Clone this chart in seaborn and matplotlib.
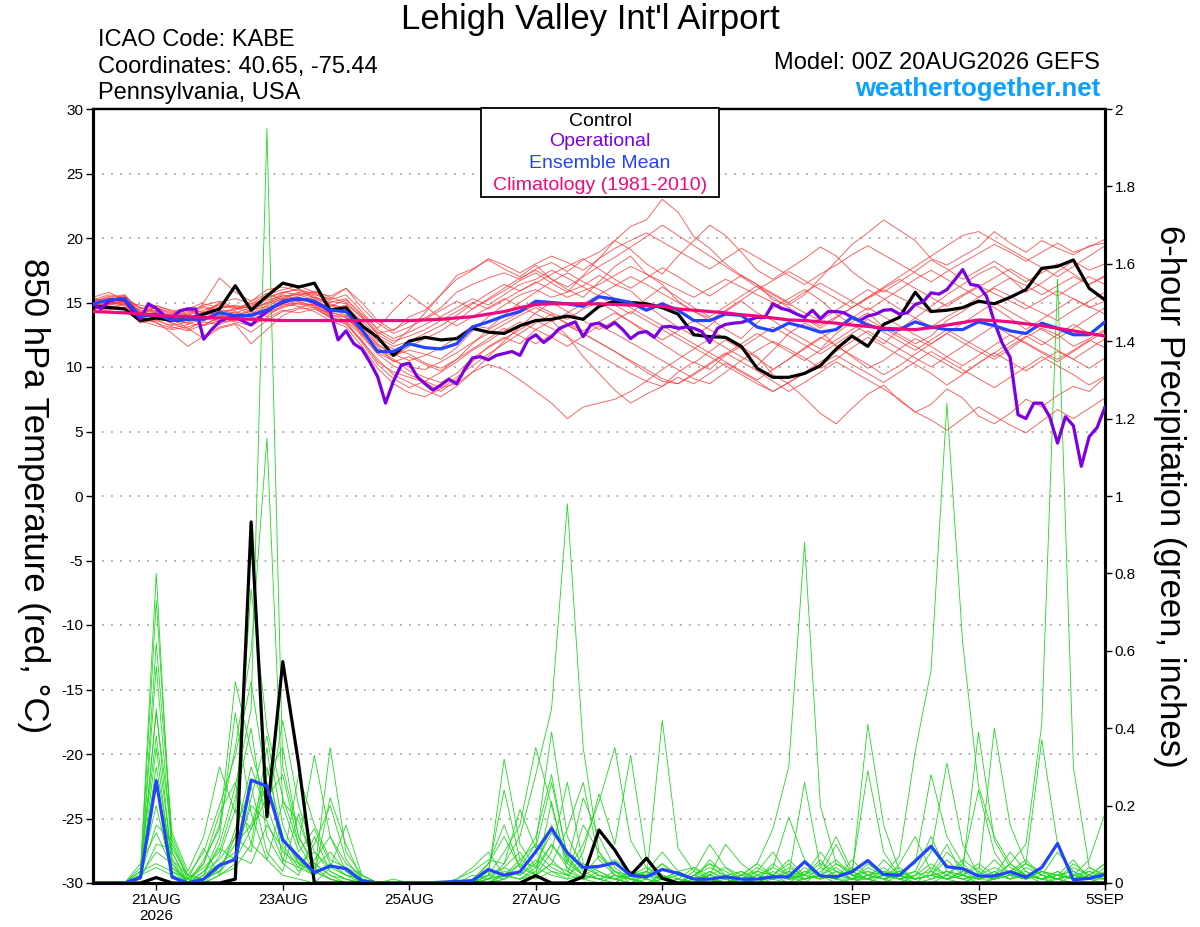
import numpy as np
import pandas as pd
import matplotlib
matplotlib.use("Agg")
import matplotlib.pyplot as plt
import matplotlib.dates as mdates
from matplotlib.patches import Rectangle
from matplotlib.ticker import FuncFormatter
import seaborn as sns

# ---------------- data ----------------
start_time = "2026-08-20 00:00"

control_temp = [14.7, 14.6, 14.5, 13.6, 13.8,
                13.6, 13.7, 14.1, 14.5, 16.3, 14.4, 15.5, 16.5, 16.2, 16.5, 14.4, 14.6,
                13.2, 12.3, 10.9, 12.0, 12.3, 12.1, 12.2, 13.0, 12.7, 12.6, 13.2, 13.6,
                13.7, 13.95, 13.7, 14.7, 15.1, 15.0, 14.9, 14.6, 14.1, 12.5, 12.35, 12.3,
                11.6, 9.9, 9.2, 9.2, 9.5, 10.1, 11.4, 12.4, 11.6, 13.3, 13.85, 15.8,
                14.3, 14.4, 14.6, 15.1, 14.9, 15.4, 16.0, 17.65, 17.8, 18.3, 16.1, 15.2]

mean_temp = [14.9, 15.2, 15.3, 13.9, 14.1,
             13.6, 13.7, 13.7, 14.2, 14.0, 14.0, 14.4, 15.1, 15.3, 15.1, 14.4, 14.3,
             12.9, 11.2, 11.2, 11.8, 11.5, 11.4, 11.8, 13.1, 13.5, 13.95, 14.3, 15.1,
             15.0, 14.9, 14.7, 15.45, 15.25, 15.0, 14.4, 14.9, 14.4, 13.6, 13.6, 14.1,
             14.0, 13.1, 12.8, 13.4, 13.1, 12.7, 12.9, 13.85, 13.25, 12.9, 12.9, 13.5,
             13.1, 12.9, 12.9, 13.5, 13.2, 12.8, 12.6, 13.4, 13.0, 12.5, 12.5, 13.5]

clim_temp = [14.3, 14.25, 14.2, 14.1, 14.0,
             13.95, 13.9, 13.85, 13.8, 13.75, 13.7, 13.65, 13.6, 13.6, 13.6, 13.6, 13.6,
             13.6, 13.6, 13.6, 13.6, 13.65, 13.7, 13.8, 13.9, 14.1, 14.3, 14.6, 14.85,
             14.9, 14.9, 14.9, 14.9, 14.85, 14.8, 14.75, 14.7, 14.5, 14.4, 14.3, 14.2,
             14.05, 13.95, 13.8, 13.65, 13.6, 13.5, 13.4, 13.25, 13.15, 13.0, 12.95, 12.9,
             13.05, 13.25, 13.45, 13.65, 13.6, 13.5, 13.35, 13.2, 13.0, 12.8, 12.6, 12.4]

# operational run, 3-hourly
oper_temp = [14.9, 14.5, 15.1, 15.25, 15.2, 14.4, 13.7, 14.9,
             14.55, 14.0, 13.85, 14.35, 14.5, 14.5, 12.15, 12.9,
             13.5, 13.8, 13.85, 13.55, 13.25, 13.8, 14.3, 14.7,
             15.0, 15.2, 15.25, 15.2, 15.0, 14.7, 14.3, 12.1,
             12.8, 11.8, 11.4, 10.4, 9.25, 7.2, 8.9, 10.15,
             10.3, 9.25, 8.7, 8.2, 8.6, 9.05, 8.7, 9.8,
             10.7, 10.8, 10.55, 10.9, 11.05, 11.2, 10.9, 12.1,
             12.5, 11.9, 12.35, 13.0, 13.25, 13.5, 12.35, 13.3,
             13.4, 13.05, 13.45, 12.9, 12.2, 12.65, 12.75, 12.3,
             13.1, 13.15, 13.0, 13.1, 13.0, 12.75, 11.9, 13.0,
             13.3, 13.4, 13.45, 13.65, 13.85, 13.85, 14.9, 14.55,
             14.4, 14.1, 13.85, 14.4, 13.75, 14.3, 14.3, 14.2,
             13.85, 13.6, 13.95, 14.1, 14.4, 14.45, 14.1, 14.2,
             14.85, 15.05, 15.75, 15.65, 16.0, 16.75, 17.55, 16.4,
             16.3, 15.5, 13.5, 11.85, 10.75, 6.3, 6.0, 7.2,
             7.2, 6.15, 4.1, 6.15, 5.45, 2.3, 4.6, 5.3,
             6.9]

control_precip = [0, 0, 0, 0, 0.014,
                  0, 0, 0, 0, 0.01, 0.933, 0.171, 0.572, 0.309, 0, 0, 0,
                  0, 0, 0, 0, 0, 0, 0, 0, 0, 0, 0, 0.019,
                  0, 0, 0.016, 0.137, 0.085, 0.02, 0.064, 0.012, 0, 0, 0, 0,
                  0, 0, 0, 0, 0, 0, 0, 0, 0, 0, 0, 0,
                  0, 0, 0, 0, 0, 0, 0, 0, 0, 0, 0, 0]

mean_precip = [0, 0, 0, 0.014, 0.264,
               0.015, 0, 0.01, 0.046, 0.061, 0.266, 0.25, 0.111, 0.068, 0.027, 0.044, 0.037,
               0.006, 0, 0, 0, 0, 0.002, 0.004, 0.006, 0.035, 0.02, 0.029, 0.081,
               0.141, 0.078, 0.04, 0.043, 0.052, 0.02, 0.016, 0.035, 0.025, 0.01, 0.01, 0.016,
               0.01, 0.01, 0.016, 0.016, 0.055, 0.018, 0.016, 0.029, 0.058, 0.022, 0.02, 0.057,
               0.095, 0.042, 0.037, 0.018, 0.018, 0.029, 0.015, 0.04, 0.102, 0.008, 0.012, 0.022]

# ensemble members, 850 hPa temperature (6-hourly)
ens_temp = [
    [15.2, 15.6, 15.4, 14.6, 14.3, 13.9, 14.2, 14.8, 15.1, 14.6, 14.9, 15.3, 15.8, 16.0, 15.7, 15.1, 14.9,
     13.8, 12.6, 12.9, 13.5, 13.8, 14.6, 15.8, 16.4, 16.9, 17.3, 16.8, 17.6, 18.1, 17.4, 18.3, 18.9,
     19.8, 20.9, 21.4, 23.0, 22.0, 20.1, 19.2, 18.0, 17.1, 16.4, 15.2, 14.8, 15.6, 16.9, 18.2, 19.5,
     20.4, 21.4, 20.6, 19.8, 18.4, 17.9, 18.6, 19.3, 20.5, 19.6, 18.9, 19.8, 19.2, 18.7, 19.4, 19.6],
    [14.8, 14.9, 15.1, 13.8, 13.6, 13.2, 13.5, 13.9, 13.6, 13.8, 14.2, 14.6, 15.0, 14.9, 14.6, 13.8, 13.3,
     12.1, 10.4, 9.6, 9.2, 8.8, 8.1, 9.0, 10.4, 11.6, 12.3, 11.8, 12.9, 13.6, 12.4, 10.8, 9.5,
     8.2, 7.2, 7.9, 8.5, 9.6, 10.4, 9.8, 10.9, 11.6, 10.8, 9.4, 8.7, 7.6, 6.4, 5.6, 6.8,
     7.9, 8.6, 7.4, 6.5, 7.1, 8.3, 7.6, 6.2, 5.6, 6.4, 7.5, 6.9, 7.8, 8.5, 8.1, 9.2],
    [14.6, 14.4, 14.9, 13.5, 13.9, 13.4, 12.9, 13.6, 14.0, 14.3, 13.9, 14.8, 15.6, 15.2, 15.4, 14.8, 14.6,
     13.2, 11.8, 10.9, 11.3, 11.0, 10.6, 11.5, 12.8, 13.9, 14.8, 15.6, 16.0, 15.4, 15.8, 16.3, 17.1,
     16.4, 15.9, 14.8, 13.9, 13.1, 12.4, 13.2, 14.3, 15.1, 14.2, 13.6, 12.8, 12.1, 11.4, 12.6, 13.5,
     14.2, 13.1, 12.5, 11.8, 12.4, 13.6, 14.3, 15.2, 14.6, 13.8, 12.9, 13.7, 14.5, 15.3, 14.6, 15.1],
    [15.4, 15.8, 15.2, 14.3, 14.6, 14.1, 14.5, 15.0, 16.9, 15.8, 15.1, 16.0, 16.2, 15.9, 15.6, 15.3, 16.1,
     15.0, 13.6, 12.8, 13.9, 14.4, 15.6, 17.1, 17.6, 18.3, 17.6, 17.0, 17.9, 16.8, 16.0, 15.4, 16.6,
     17.8, 18.6, 17.2, 16.4, 15.1, 14.3, 13.8, 12.9, 12.2, 13.4, 14.6, 15.3, 16.0, 15.2, 14.1, 13.3,
     12.6, 11.8, 12.9, 13.8, 14.7, 15.6, 16.4, 17.2, 17.8, 16.9, 15.8, 16.5, 17.4, 18.2, 17.5, 18.0],
    [14.9, 15.2, 14.7, 13.9, 13.4, 13.0, 13.3, 13.8, 13.5, 13.6, 13.8, 14.1, 14.6, 15.0, 14.8, 14.1, 13.6,
     12.4, 11.0, 10.1, 9.4, 8.9, 8.4, 8.7, 9.6, 10.2, 9.8, 9.0, 8.1, 7.2, 6.0, 6.9, 7.2,
     7.5, 8.1, 8.9, 9.8, 10.6, 11.4, 12.2, 11.5, 10.8, 10.1, 11.3, 12.6, 13.4, 12.8, 11.6, 10.9,
     10.2, 9.4, 10.1, 11.0, 11.8, 12.6, 11.9, 11.2, 10.6, 11.4, 12.3, 13.0, 12.5, 11.6, 12.2, 12.9],
    [15.1, 15.4, 15.6, 14.2, 14.4, 13.7, 14.0, 14.4, 14.8, 14.5, 14.8, 15.2, 15.5, 15.6, 15.2, 14.6, 14.0,
     12.6, 11.4, 10.8, 11.6, 12.2, 12.8, 13.6, 14.5, 15.2, 15.9, 16.7, 17.3, 16.5, 15.8, 17.1, 18.4,
     19.8, 19.1, 18.0, 17.2, 18.6, 19.8, 21.0, 20.2, 18.9, 17.5, 16.8, 17.6, 18.4, 19.3, 18.6, 17.4,
     16.5, 15.8, 16.6, 17.4, 18.3, 17.6, 16.8, 17.5, 18.2, 17.4, 16.6, 17.3, 18.0, 17.2, 16.4, 17.0],
    [14.5, 14.7, 14.6, 13.7, 13.5, 12.6, 11.6, 12.4, 13.1, 13.4, 12.7, 13.6, 14.3, 14.6, 14.9, 14.3, 13.8,
     12.8, 11.6, 10.4, 10.8, 10.2, 9.7, 10.6, 11.8, 12.9, 13.6, 14.2, 14.8, 14.2, 13.7, 14.5, 15.0,
     14.3, 13.5, 12.6, 11.8, 11.0, 10.3, 11.2, 12.1, 11.4, 10.7, 9.8, 10.6, 11.5, 12.3, 11.7, 10.8,
     9.9, 10.5, 11.4, 12.2, 11.6, 10.8, 10.1, 10.9, 11.7, 12.5, 11.9, 11.2, 10.6, 11.3, 12.1, 11.5],
    [15.3, 15.0, 15.5, 14.5, 14.8, 14.3, 14.6, 14.2, 15.0, 15.3, 14.9, 15.6, 16.0, 16.3, 15.8, 15.2, 15.6,
     14.3, 12.9, 12.2, 12.7, 13.3, 13.9, 14.6, 15.3, 14.8, 15.6, 16.4, 16.8, 17.5, 16.9, 16.2, 15.5,
     14.8, 14.1, 15.3, 16.2, 15.4, 14.6, 13.9, 14.7, 15.5, 16.3, 15.6, 14.9, 14.2, 13.6, 14.4, 15.2,
     16.0, 15.3, 14.5, 13.8, 13.1, 13.9, 14.6, 15.4, 16.1, 15.5, 14.8, 14.2, 13.6, 14.4, 15.1, 15.8],
    [14.7, 15.0, 14.8, 14.1, 13.8, 13.5, 13.9, 13.2, 13.6, 14.1, 14.3, 13.9, 14.8, 15.1, 14.7, 13.9, 13.4,
     11.9, 10.2, 9.1, 8.4, 8.9, 9.6, 10.4, 11.3, 12.0, 12.8, 13.5, 12.9, 12.3, 11.6, 12.4, 13.2,
     12.6, 11.9, 11.2, 10.5, 9.8, 9.1, 8.7, 9.6, 10.5, 11.3, 12.0, 11.4, 10.7, 9.9, 10.6, 11.5,
     12.3, 11.6, 10.9, 10.2, 9.5, 8.6, 9.4, 10.3, 11.1, 10.4, 9.7, 10.5, 11.2, 10.6, 9.9, 10.7],
    [15.0, 15.5, 15.0, 14.4, 14.0, 13.8, 13.4, 14.0, 14.5, 14.8, 14.5, 15.0, 15.4, 15.8, 15.5, 14.9, 14.5,
     13.6, 12.3, 11.6, 12.0, 12.6, 13.2, 14.0, 14.9, 15.7, 16.4, 15.9, 16.5, 17.2, 17.8, 18.4, 17.6,
     16.8, 16.1, 16.9, 17.7, 17.0, 16.2, 15.5, 16.3, 17.1, 16.4, 15.7, 15.0, 15.8, 16.5, 15.8, 15.1,
     14.4, 15.2, 16.0, 16.8, 17.5, 16.8, 16.1, 15.4, 16.2, 16.9, 16.3, 15.6, 16.3, 17.0, 16.4, 17.1],
    [14.4, 14.8, 15.0, 13.6, 13.2, 12.9, 13.1, 13.5, 13.3, 13.7, 14.0, 14.3, 14.9, 14.7, 14.3, 13.6, 13.1,
     11.6, 9.9, 8.7, 8.0, 7.7, 8.3, 9.2, 10.1, 11.0, 11.8, 12.6, 13.4, 14.1, 13.3, 12.6, 11.9,
     11.2, 10.4, 9.6, 8.9, 8.7, 9.5, 10.3, 11.1, 10.4, 9.7, 8.9, 8.1, 8.8, 9.6, 10.4, 9.7,
     9.0, 8.3, 7.5, 6.5, 5.9, 5.1, 6.0, 6.9, 6.2, 5.5, 4.9, 5.8, 6.7, 6.0, 6.8, 7.6],
    [15.2, 15.3, 15.0, 14.8, 14.5, 14.0, 14.3, 14.7, 14.4, 14.2, 14.6, 14.9, 15.3, 15.4, 15.0, 14.7, 15.2,
     14.1, 13.0, 14.4, 15.6, 14.7, 13.8, 13.2, 13.9, 14.6, 15.3, 14.7, 14.1, 13.5, 14.2, 14.9, 15.6,
     16.3, 17.0, 16.4, 15.7, 15.0, 14.3, 13.6, 14.4, 15.2, 16.0, 16.7, 17.4, 16.7, 16.0, 15.3, 14.6,
     15.4, 16.1, 16.8, 16.1, 15.4, 14.7, 15.5, 16.2, 16.9, 17.6, 16.9, 16.2, 15.5, 16.3, 17.0, 16.4],
    [14.9, 15.1, 14.9, 14.0, 14.2, 13.8, 14.1, 14.6, 14.3, 14.4, 15.1, 15.7, 15.2, 15.5, 15.9, 15.4, 15.0,
     13.9, 12.5, 11.8, 12.9, 14.2, 15.6, 16.8, 17.5, 18.4, 17.9, 17.3, 18.0, 18.6, 18.1, 17.5, 18.4,
     19.2, 19.8, 20.4, 19.7, 19.0, 18.3, 17.6, 18.4, 19.2, 18.5, 17.8, 17.1, 16.4, 17.2, 17.9, 18.7,
     19.4, 18.7, 18.0, 17.3, 16.6, 17.4, 18.1, 18.8, 19.5, 18.9, 18.2, 18.9, 19.6, 18.9, 19.3, 19.9],
    [14.6, 14.9, 15.2, 13.9, 14.0, 13.6, 13.4, 13.2, 13.9, 14.0, 13.6, 14.2, 14.7, 14.9, 14.8, 14.0, 13.9,
     12.5, 11.1, 10.5, 10.0, 9.8, 10.4, 11.1, 11.9, 12.6, 13.3, 14.0, 14.6, 14.0, 13.4, 12.8, 13.5,
     14.2, 13.5, 12.8, 12.1, 12.8, 13.6, 12.9, 12.2, 11.5, 12.3, 13.1, 12.4, 11.7, 11.0, 11.8, 12.6,
     13.4, 12.7, 12.0, 11.3, 12.1, 12.9, 12.2, 11.5, 10.8, 11.6, 12.4, 11.7, 12.5, 13.3, 12.6, 13.4],
    [15.0, 14.8, 15.1, 14.2, 14.7, 14.4, 14.0, 14.9, 14.6, 14.7, 14.3, 15.0, 15.7, 16.1, 15.3, 14.8, 14.2,
     13.0, 11.7, 11.0, 10.5, 10.9, 11.5, 12.3, 13.2, 13.0, 14.0, 15.0, 15.8, 16.6, 17.3, 16.6, 16.0,
     15.3, 14.6, 13.9, 13.2, 12.5, 11.8, 11.1, 10.4, 9.7, 9.0, 9.8, 10.6, 11.4, 12.2, 13.0, 13.8,
     14.6, 13.9, 13.2, 12.5, 11.8, 12.6, 13.4, 14.2, 15.0, 14.3, 13.6, 12.9, 12.2, 13.0, 13.8, 14.6],
    [14.8, 15.3, 15.4, 14.0, 14.3, 13.9, 13.6, 14.1, 14.9, 14.6, 14.1, 14.5, 15.0, 15.2, 15.1, 14.5, 14.8,
     13.4, 12.0, 11.4, 11.0, 10.3, 9.9, 10.6, 11.4, 12.2, 13.0, 12.4, 11.8, 12.5, 13.2, 12.6, 11.9,
     11.2, 10.5, 9.8, 9.1, 8.7, 9.4, 10.2, 11.0, 11.8, 12.6, 11.9, 11.2, 10.5, 11.3, 12.1, 12.9,
     13.7, 13.0, 12.3, 11.6, 10.9, 10.2, 9.5, 10.3, 11.1, 11.9, 12.7, 12.0, 11.3, 10.6, 11.4, 12.2],
    [15.1, 14.9, 15.2, 14.6, 14.2, 13.3, 13.8, 14.3, 14.0, 13.9, 14.4, 14.7, 15.3, 15.7, 15.4, 15.0, 15.3,
     14.0, 12.7, 12.0, 12.4, 12.9, 13.6, 14.3, 15.0, 14.5, 15.2, 15.9, 16.6, 16.0, 15.4, 15.9, 16.4,
     17.1, 17.8, 17.2, 16.6, 16.0, 15.4, 16.1, 16.8, 16.2, 15.6, 15.0, 14.4, 13.8, 13.2, 13.9, 14.6,
     15.3, 16.0, 15.4, 14.8, 14.2, 14.9, 15.6, 16.3, 15.7, 15.1, 14.5, 15.2, 15.9, 15.3, 14.7, 14.1],
    [14.7, 14.6, 14.9, 13.8, 14.1, 13.7, 13.0, 12.2, 13.0, 13.3, 11.8, 12.9, 14.0, 14.5, 14.6, 14.2, 14.0,
     12.7, 11.3, 10.6, 9.7, 9.2, 8.8, 9.5, 10.7, 11.5, 12.2, 12.9, 13.6, 13.0, 12.3, 11.6, 10.9,
     10.2, 9.5, 8.9, 8.5, 9.2, 8.7, 9.5, 10.3, 9.6, 8.9, 8.1, 8.8, 9.5, 10.2, 10.9, 10.2,
     9.5, 8.8, 9.6, 10.4, 11.2, 10.5, 9.8, 9.1, 8.4, 9.2, 10.0, 10.8, 10.1, 9.4, 8.6, 9.3],
    [15.3, 15.1, 15.6, 14.1, 14.6, 14.2, 14.4, 14.0, 14.3, 14.5, 14.7, 15.4, 15.8, 15.6, 15.8, 15.5, 16.1,
     14.6, 13.4, 12.6, 13.1, 13.7, 14.4, 15.1, 14.5, 15.3, 16.1, 16.9, 17.5, 16.8, 16.2, 17.0, 17.8,
     18.5, 19.3, 20.1, 21.0, 20.2, 19.4, 18.6, 17.8, 17.0, 16.2, 15.4, 14.6, 13.8, 13.0, 13.8, 14.6,
     15.4, 16.2, 17.0, 17.8, 18.6, 19.4, 20.2, 20.5, 19.8, 19.1, 18.4, 17.7, 17.0, 17.8, 18.6, 19.4],
    [14.9, 14.7, 14.5, 13.4, 13.7, 13.1, 12.8, 13.3, 13.8, 13.5, 13.2, 13.8, 14.4, 14.2, 14.5, 13.9, 13.5,
     12.0, 10.6, 9.4, 8.8, 8.2, 7.7, 8.5, 9.6, 10.8, 12.0, 13.1, 14.2, 15.0, 14.3, 13.6, 12.9,
     13.6, 14.3, 13.6, 12.9, 12.2, 11.5, 10.8, 10.1, 9.4, 8.7, 8.1, 8.8, 9.6, 10.4, 11.2, 12.0,
     12.8, 12.1, 11.4, 10.7, 10.0, 10.8, 11.6, 12.4, 13.2, 12.5, 11.8, 11.1, 10.4, 11.2, 12.0, 12.8],
]

# ensemble members, 6-hour precipitation (inches)
ens_precip = [
    [0, 0, 0, 0.03, 0.80, 0.05, 0, 0.02, 0.10, 0.25, 0.45, 1.95, 0.30, 0.12, 0.05, 0.02, 0,
     0, 0, 0, 0, 0, 0, 0, 0.01, 0.05, 0.12, 0.04, 0.10, 0.06, 0.02, 0.15, 0.08,
     0.03, 0, 0.02, 0.05, 0.01, 0, 0.02, 0.04, 0.01, 0, 0.03, 0.01, 0.02, 0.06, 0.01, 0,
     0.02, 0.04, 0.01, 0, 0.03, 0.10, 0.02, 0, 0.01, 0.03, 0.05, 0.02, 0.01, 0, 0.02, 0.05],
    [0, 0, 0, 0.02, 0.73, 0.10, 0.01, 0.05, 0.15, 0.35, 0.60, 1.15, 0.20, 0.08, 0.14, 0.05, 0.02,
     0, 0, 0, 0, 0, 0, 0, 0, 0.02, 0.08, 0.15, 0.35, 0.20, 0.05, 0.02, 0.01,
     0, 0.03, 0.01, 0, 0, 0.02, 0.05, 0.01, 0, 0.03, 0.08, 0.02, 0.01, 0.04, 0.12, 0.03,
     0.01, 0, 0.05, 0.12, 0.03, 0.01, 0, 0.02, 0.06, 0.02, 0.01, 0.03, 0.01, 0, 0.02, 0.01],
    [0, 0, 0, 0.01, 0.56, 0.08, 0, 0, 0.02, 0.05, 0.22, 0.38, 0.15, 0.05, 0.03, 0.01, 0,
     0, 0, 0, 0, 0, 0, 0.01, 0.03, 0.06, 0.05, 0.12, 0.28, 0.45, 0.98, 0.35, 0.08,
     0.02, 0.01, 0, 0.01, 0.03, 0.01, 0, 0, 0.02, 0.05, 0.02, 0, 0.01, 0.02, 0, 0.01,
     0.04, 0.02, 0.01, 0, 0, 0.02, 0.05, 0.01, 0.02, 0.08, 0.03, 0.01, 0, 0.02, 0.01, 0.03],
    [0, 0, 0, 0.02, 0.44, 0.12, 0.02, 0.08, 0.20, 0.33, 0.52, 0.25, 0.10, 0.04, 0.10, 0.20, 0.06,
     0.01, 0, 0, 0, 0, 0, 0, 0, 0, 0.03, 0.02, 0.05, 0.13, 0.08, 0.03, 0.01,
     0, 0.02, 0.04, 0.02, 0, 0.03, 0.10, 0.04, 0.02, 0.05, 0.14, 0.30, 0.88, 0.20, 0.05, 0.02,
     0.03, 0.01, 0, 0.02, 0.05, 0.02, 0.01, 0, 0.01, 0.03, 0.02, 0, 0.01, 0.04, 0.02, 0.01],
    [0, 0, 0, 0.04, 0.38, 0.06, 0, 0.03, 0.06, 0.12, 0.30, 0.18, 0.42, 0.20, 0.08, 0.03, 0.01,
     0, 0, 0, 0, 0, 0, 0, 0, 0.01, 0.02, 0.06, 0.04, 0.10, 0.05, 0.22, 0.12,
     0.04, 0.01, 0, 0.02, 0.01, 0, 0.03, 0.01, 0, 0.02, 0.01, 0.04, 0.02, 0.08, 0.03, 0.01,
     0.05, 0.02, 0.07, 0.34, 0.55, 1.24, 0.62, 0.25, 0.12, 0.05, 0.02, 0.01, 0.03, 0.01, 0, 0.02],
    [0, 0, 0, 0.02, 0.27, 0.03, 0, 0, 0.04, 0.10, 0.15, 0.28, 0.35, 0.12, 0.04, 0.08, 0.03,
     0, 0, 0, 0, 0, 0, 0, 0, 0, 0.01, 0.05, 0.02, 0.08, 0.26, 0.05, 0.02,
     0.01, 0, 0.03, 0.01, 0, 0.02, 0.01, 0, 0.01, 0, 0.02, 0.05, 0.01, 0.02, 0.04, 0.01,
     0, 0.02, 0.03, 0.01, 0.04, 0.02, 0.06, 0.03, 0.01, 0.05, 0.10, 0.41, 1.56, 0.30, 0.04, 0.02],
    [0, 0, 0, 0.01, 0.62, 0.13, 0.03, 0.12, 0.30, 0.18, 0.76, 0.40, 0.22, 0.10, 0.33, 0.12, 0.05,
     0.02, 0, 0, 0, 0, 0, 0, 0, 0.02, 0.32, 0.10, 0.04, 0.15, 0.06, 0.02, 0.07,
     0.03, 0.01, 0.02, 0, 0.01, 0.04, 0.02, 0.01, 0, 0.01, 0.05, 0.02, 0, 0.03, 0.06, 0.02,
     0.41, 0.15, 0.03, 0.01, 0.02, 0.08, 0.04, 0.02, 0.01, 0.03, 0.06, 0.02, 0.08, 0.03, 0.01, 0],
    [0, 0, 0, 0.03, 0.20, 0.02, 0, 0.06, 0.14, 0.52, 0.34, 0.20, 0.08, 0.05, 0.02, 0.22, 0.10,
     0.01, 0, 0, 0, 0, 0, 0, 0, 0.03, 0.24, 0.06, 0.10, 0.39, 0.12, 0.04, 0.02,
     0.01, 0.03, 0.01, 0, 0, 0.01, 0.02, 0.10, 0.05, 0.02, 0.04, 0.17, 0.06, 0.02, 0.01, 0.03,
     0.29, 0.08, 0.02, 0, 0.01, 0.03, 0.02, 0.05, 0.02, 0.01, 0.04, 0.02, 0.01, 0.05, 0.02, 0.01],
    [0, 0, 0, 0.02, 0.15, 0.11, 0.01, 0.04, 0.08, 0.22, 0.40, 0.12, 0.05, 0.28, 0.15, 0.06, 0.04,
     0.02, 0, 0, 0, 0, 0, 0, 0.01, 0.02, 0.04, 0.08, 0.02, 0.05, 0.03, 0.10, 0.21,
     0.35, 0.11, 0.04, 0.01, 0, 0.02, 0.05, 0.03, 0.01, 0, 0.02, 0.01, 0.04, 0.02, 0.01, 0.06,
     0.02, 0.01, 0.03, 0.05, 0.28, 0.12, 0.05, 0.24, 0.08, 0.02, 0.01, 0.03, 0.01, 0.02, 0.06, 0.18],
    [0, 0, 0, 0.05, 0.13, 0.04, 0, 0.02, 0.05, 0.08, 0.20, 0.16, 0.06, 0.04, 0.02, 0.35, 0.08,
     0.02, 0, 0, 0, 0, 0, 0, 0, 0, 0.02, 0.01, 0.04, 0.02, 0.01, 0.08, 0.23,
     0.10, 0.33, 0.06, 0.02, 0, 0.01, 0.03, 0.01, 0, 0.02, 0.01, 0.03, 0.02, 0.05, 0.03, 0.01,
     0.03, 0.02, 0.01, 0.02, 0.08, 0.31, 0.10, 0.02, 0.04, 0.02, 0.01, 0.03, 0.02, 0.01, 0.04, 0.02],
    [0, 0, 0, 0.01, 0.10, 0.09, 0.02, 0.01, 0.03, 0.12, 0.08, 0.30, 0.12, 0.05, 0.08, 0.04, 0.02,
     0.01, 0, 0.01, 0, 0, 0, 0, 0, 0, 0.01, 0.03, 0.08, 0.04, 0.02, 0.01, 0.03,
     0.01, 0, 0.01, 0.42, 0.09, 0.03, 0.01, 0, 0.01, 0.03, 0.02, 0.01, 0.02, 0.01, 0.03, 0.02,
     0.01, 0.06, 0.02, 0.01, 0.02, 0.01, 0.03, 0.39, 0.11, 0.04, 0.02, 0.01, 0.02, 0.01, 0.02, 0.05],
    [0, 0, 0, 0.02, 0.08, 0.05, 0, 0.03, 0.09, 0.06, 0.14, 0.22, 0.28, 0.10, 0.03, 0.01, 0,
     0, 0, 0, 0, 0, 0, 0, 0.02, 0.01, 0.05, 0.19, 0.09, 0.26, 0.07, 0.02, 0.01,
     0.03, 0.02, 0.01, 0.05, 0.02, 0.01, 0.06, 0.02, 0.01, 0.04, 0.02, 0.01, 0.03, 0.02, 0.01, 0.04,
     0.02, 0.01, 0.02, 0.03, 0.01, 0.02, 0.01, 0.02, 0.40, 0.15, 0.05, 0.37, 0.10, 0.02, 0.01, 0.02],
    [0, 0, 0, 0.03, 0.05, 0.03, 0.01, 0, 0.02, 0.04, 0.10, 0.06, 0.21, 0.16, 0.05, 0.02, 0.01,
     0, 0, 0, 0, 0, 0, 0, 0, 0.01, 0.02, 0.01, 0.02, 0.05, 0.14, 0.26, 0.06,
     0.02, 0.01, 0, 0.01, 0.02, 0.01, 0, 0.01, 0.03, 0.01, 0.04, 0.02, 0.26, 0.04, 0.02, 0.01,
     0.01, 0.02, 0.01, 0.02, 0.03, 0.01, 0.02, 0.01, 0.02, 0.05, 0.02, 0.01, 0.03, 0.01, 0.02, 0.01],
    [0, 0, 0, 0.02, 0.04, 0.02, 0, 0.01, 0.03, 0.07, 0.05, 0.15, 0.09, 0.03, 0.06, 0.12, 0.03,
     0, 0, 0, 0, 0, 0, 0, 0, 0.02, 0.01, 0.03, 0.01, 0.03, 0.01, 0.02, 0.04,
     0.06, 0.03, 0.02, 0.01, 0, 0.01, 0.02, 0.01, 0.02, 0.01, 0.01, 0.02, 0.01, 0.02, 0.01, 0.01,
     0.02, 0.01, 0.02, 0.01, 0.02, 0.01, 0.03, 0.01, 0.01, 0.02, 0.01, 0.02, 0.01, 0.02, 0.03, 0.01],
    [0, 0, 0, 0.01, 0.35, 0.02, 0, 0.02, 0.12, 0.44, 0.18, 0.06, 0.02, 0.01, 0, 0.04, 0.15,
     0.02, 0, 0, 0, 0, 0, 0.01, 0.04, 0.08, 0.02, 0.01, 0.03, 0.10, 0.04, 0.01, 0,
     0.02, 0.01, 0.03, 0.08, 0.03, 0.01, 0, 0.02, 0.01, 0, 0.01, 0.03, 0.01, 0.02, 0.10, 0.02,
     0.01, 0, 0.02, 0.01, 0.02, 0.06, 0.02, 0.01, 0.03, 0.01, 0.02, 0.01, 0.02, 0.06, 0.01, 0.02],
    [0, 0, 0, 0.02, 0.25, 0.08, 0, 0.05, 0.18, 0.26, 0.10, 0.35, 0.05, 0.02, 0.12, 0.03, 0.01,
     0, 0, 0, 0, 0, 0, 0, 0, 0.05, 0.15, 0.04, 0.02, 0.21, 0.03, 0.01, 0.02,
     0.01, 0, 0.02, 0.01, 0, 0.02, 0.04, 0.02, 0.03, 0.01, 0.02, 0.06, 0.02, 0.01, 0.03, 0.01,
     0.02, 0.03, 0.01, 0.03, 0.12, 0.03, 0.01, 0.02, 0.01, 0.02, 0.03, 0.01, 0.02, 0.03, 0.01, 0.04],
    [0, 0, 0, 0.01, 0.45, 0.04, 0.01, 0.09, 0.02, 0.14, 0.25, 0.08, 0.03, 0.18, 0.04, 0.01, 0,
     0, 0, 0, 0, 0, 0, 0, 0, 0, 0.02, 0.05, 0.12, 0.28, 0.06, 0.02, 0.01,
     0.02, 0.01, 0, 0, 0.01, 0, 0.01, 0.02, 0.01, 0.02, 0.01, 0, 0.03, 0.01, 0.02, 0.01,
     0.01, 0.02, 0.04, 0.01, 0.02, 0.01, 0.02, 0.01, 0.03, 0.01, 0.02, 0.01, 0.01, 0.02, 0.01, 0.01],
    [0, 0, 0, 0.02, 0.30, 0.06, 0.02, 0.01, 0.07, 0.19, 0.14, 0.26, 0.11, 0.06, 0.02, 0.05, 0.02,
     0.01, 0, 0, 0, 0, 0, 0, 0, 0.01, 0.04, 0.02, 0.06, 0.03, 0.02, 0.05, 0.03,
     0.01, 0.02, 0.03, 0.01, 0.03, 0.04, 0.01, 0, 0.02, 0.03, 0.02, 0.01, 0.01, 0.02, 0.05, 0.03,
     0.01, 0.03, 0.02, 0.01, 0.02, 0.03, 0.02, 0.04, 0.01, 0.02, 0.05, 0.03, 0.02, 0.01, 0.03, 0.02],
]

tick_dates = ["2026-08-21", "2026-08-23", "2026-08-25", "2026-08-27",
              "2026-08-29", "2026-09-01", "2026-09-03", "2026-09-05"]
tick_labels = ["21AUG\n2026", "23AUG", "25AUG", "27AUG", "29AUG", "1SEP", "3SEP", "5SEP"]

legend_labels = ["Control", "Operational", "Ensemble Mean", "Climatology (1981-2010)"]

# ---------------- styling ----------------
sns.set_theme(style="ticks")
plt.rcParams["font.family"] = ["Liberation Sans", "DejaVu Sans"]
plt.rcParams["axes.unicode_minus"] = False
plt.rcParams["text.color"] = "black"
plt.rcParams["axes.labelcolor"] = "black"
plt.rcParams["xtick.color"] = "black"
plt.rcParams["ytick.color"] = "black"
plt.rcParams["axes.edgecolor"] = "black"

C_RED = "#ff3c3c"
C_GREEN = "#1fd81f"
C_PURPLE = "#7d00e0"
C_BLUE = "#2244ff"
C_MAGENTA = "#f0087e"
C_WEB = "#0aa0ff"

t6 = pd.date_range(start_time, periods=len(control_temp), freq="6h")
t3 = pd.date_range(start_time, periods=len(oper_temp), freq="3h")


def long_form(members, times, name):
    parts = []
    for m, vals in enumerate(members):
        parts.append(pd.DataFrame({"time": times, name: vals, "member": m}))
    return pd.concat(parts, ignore_index=True)


red_df = long_form(ens_temp, t6, "temp")
green_df = long_form(ens_precip, t6, "precip")

fig = plt.figure(figsize=(12, 9.27), dpi=100)
rect = [93 / 1200, 44 / 927, 1012 / 1200, 774 / 927]

# layer 1: temperature ensemble
ax = fig.add_axes(rect)
sns.lineplot(data=red_df, x="time", y="temp", units="member", estimator=None,
             color=C_RED, lw=0.6, alpha=0.9, ax=ax, legend=False)
ax.set_ylim(-30, 30)
ax.set_xlim(t6[0], t6[-1])
ax.set_yticks(np.arange(-30, 31, 5))
ax.yaxis.set_major_formatter(FuncFormatter(lambda v, p: f"{int(round(v))}"))
ax.yaxis.grid(True, linestyle=(0, (1, 4)), color="#a8a8a8", lw=1.3)
ax.xaxis.grid(False)
ax.set_xticks([mdates.date2num(pd.Timestamp(d)) for d in tick_dates])
ax.set_xticklabels(tick_labels)
ax.tick_params(axis="both", direction="out", length=5, width=1, labelsize=11, pad=2,
               colors="black", labelcolor="black")
ax.set_xlabel("")
ax.set_ylabel("850 hPa Temperature (red, °C)", fontsize=25, rotation=270, va="center", color="black")
ax.yaxis.set_label_coords(-0.059, 0.5)

# layer 2: precipitation
ax2 = ax.twinx()
sns.lineplot(data=green_df, x="time", y="precip", units="member", estimator=None,
             color=C_GREEN, lw=0.6, ax=ax2, legend=False)
sns.lineplot(x=t6, y=control_precip, color="black", lw=2.3, ax=ax2, legend=False)
sns.lineplot(x=t6, y=mean_precip, color=C_BLUE, lw=2.3, ax=ax2, legend=False)
ax2.set_ylim(0, 2)
ax2.set_yticks(np.arange(0, 2.01, 0.2))
ax2.yaxis.set_major_formatter(FuncFormatter(lambda v, p: f"{round(v, 1):g}"))
ax2.tick_params(axis="y", direction="out", length=5, width=1, labelsize=11, pad=2,
                colors="black", labelcolor="black")
ax2.set_ylabel("6-hour Precipitation (green, inches)", fontsize=25, rotation=270, va="center",
               color="black")
ax2.yaxis.set_label_coords(1.064, 0.5)

# layer 3: bold temperature lines on top
ax3 = fig.add_axes(rect, sharex=ax, sharey=ax)
ax3.patch.set_visible(False)
sns.lineplot(x=t6, y=control_temp, color="black", lw=2.3, ax=ax3, legend=False)
sns.lineplot(x=t3, y=oper_temp, color=C_PURPLE, lw=2.3, ax=ax3, legend=False)
sns.lineplot(x=t6, y=mean_temp, color=C_BLUE, lw=2.3, ax=ax3, legend=False)
sns.lineplot(x=t6, y=clim_temp, color=C_MAGENTA, lw=2.3, ax=ax3, legend=False)
ax3.axis("off")
ax.set_xlim(t6[0], t6[-1])
ax.set_ylim(-30, 30)

for a in (ax, ax2):
    for s in a.spines.values():
        s.set_linewidth(2.2)
        s.set_color("black")
    a.spines["top"].set_linewidth(1.6)

# header texts
fig.text(0.492, 0.9795, "Lehigh Valley Int'l Airport", ha="center", va="center", fontsize=25,
         color="black")
fig.text(0.0817, 0.9569, "ICAO Code: KABE", ha="left", va="center", fontsize=17, color="black")
fig.text(0.0817, 0.9277, "Coordinates: 40.65, -75.44", ha="left", va="center", fontsize=17,
         color="black")
fig.text(0.0817, 0.8997, "Pennsylvania, USA", ha="left", va="center", fontsize=17, color="black")
fig.text(0.9167, 0.932, "Model: 00Z 20AUG2026 GEFS", ha="right", va="center", fontsize=17,
         color="black")
fig.text(0.9167, 0.904, "weathertogether.net", ha="right", va="center", fontsize=18.5,
         fontweight="bold", color=C_WEB)

# legend box
box = Rectangle((481 / 1200, 1 - 197 / 927), 238 / 1200, 89 / 927, transform=fig.transFigure,
                facecolor="white", edgecolor="black", lw=1.3, zorder=5)
fig.add_artist(box)
legend_colors = ["black", C_PURPLE, C_BLUE, C_MAGENTA]
legend_y = [121, 142, 163, 185]
for lab, col, yy in zip(legend_labels, legend_colors, legend_y):
    fig.text(0.5, 1 - yy / 927, lab, ha="center", va="center", fontsize=14, color=col, zorder=6)

fig.savefig("out.png", dpi=100)
